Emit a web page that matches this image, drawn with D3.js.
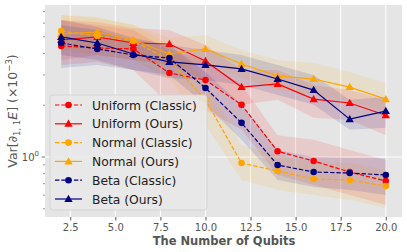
<!DOCTYPE html>
<html>
<head>
<meta charset="utf-8">
<script src="https://cdn.jsdelivr.net/npm/d3@7"></script>
<style>
  body { margin: 0; background: #fff; }
  svg { display: block; font-family: "DejaVu Sans", sans-serif; }
</style>
</head>
<body>
<svg id="chart" width="407" height="252"></svg>
<script>
// Number of qubits
let qubits = [2, 4, 6, 8, 10, 12, 14, 16, 18, 20];

let xTicks = [2.5, 5.0, 7.5, 10.0, 12.5, 15.0, 17.5, 20.0];

// Means (x 1e-3)
let uniformClassic = [4.42, 4.30, 4.25, 3.08, 2.80, 2.01, 1.08, 0.948, 0.818, 0.725];
let uniformOurs = [4.79, 4.99, 4.60, 4.54, 3.62, 2.55, 2.66, 2.17, 2.06, 1.75];
let normalClassic = [5.40, 5.05, 4.73, 3.66, 2.15, 0.923, 0.829, 0.745, 0.735, 0.678];
let normalOurs = [5.19, 5.33, 4.79, 3.97, 4.25, 3.47, 2.96, 2.84, 2.55, 2.17];
let betaClassic = [4.60, 4.25, 3.92, 3.76, 2.52, 1.58, 0.898, 0.818, 0.807, 0.786];
let betaOurs = [4.99, 4.60, 3.97, 3.57, 3.43, 3.25, 2.84, 2.45, 1.66, 1.85];

// Shaded bands (lower / upper)
let uniformClassicLo = [3.43, 3.57, 3.20, 2.01, 1.88, 1.44, 0.786, 0.687, 0.601, 0.526];
let uniformClassicHi = [6.26, 5.85, 5.47, 4.19, 3.66, 2.62, 1.34, 1.26, 1.10, 0.961];
let uniformOursLo = [3.66, 3.92, 3.66, 3.43, 2.80, 2.01, 2.15, 1.69, 1.64, 1.34];
let uniformOursHi = [6.26, 6.09, 5.62, 5.47, 4.48, 3.20, 3.20, 2.62, 2.45, 2.15];
let normalClassicLo = [4.19, 3.92, 3.66, 2.80, 1.53, 0.735, 0.643, 0.601, 0.562, 0.505];
let normalClassicHi = [6.69, 6.43, 5.85, 4.48, 2.80, 1.17, 1.03, 0.935, 0.923, 0.840];
let normalOursLo = [4.19, 4.36, 3.81, 3.29, 3.43, 2.88, 2.45, 2.29, 2.09, 1.83];
let normalOursHi = [6.69, 6.52, 5.85, 4.92, 5.12, 4.19, 3.66, 3.52, 3.12, 2.69];
let betaClassicLo = [3.29, 3.43, 3.20, 3.00, 2.01, 1.26, 0.735, 0.669, 0.643, 0.601];
let betaClassicHi = [5.85, 5.47, 4.79, 4.48, 3.12, 2.01, 1.10, 1.00, 0.987, 0.987];
let betaOursLo = [3.92, 3.66, 3.20, 2.88, 2.80, 2.62, 2.29, 2.01, 1.44, 1.48];
let betaOursHi = [6.26, 5.70, 4.92, 4.48, 4.19, 3.92, 3.43, 3.00, 2.15, 2.23];

let series = [
  { name: "Uniform (Classic)", y: uniformClassic, lo: uniformClassicLo, hi: uniformClassicHi, color: "#ff0000", dashed: true, marker: "circle" },
  { name: "Uniform (Ours)", y: uniformOurs, lo: uniformOursLo, hi: uniformOursHi, color: "#ff0000", dashed: false, marker: "triangle" },
  { name: "Normal (Classic)", y: normalClassic, lo: normalClassicLo, hi: normalClassicHi, color: "#ffa500", dashed: true, marker: "circle" },
  { name: "Normal (Ours)", y: normalOurs, lo: normalOursLo, hi: normalOursHi, color: "#ffa500", dashed: false, marker: "triangle" },
  { name: "Beta (Classic)", y: betaClassic, lo: betaClassicLo, hi: betaClassicHi, color: "#000080", dashed: true, marker: "circle" },
  { name: "Beta (Ours)", y: betaOurs, lo: betaOursLo, hi: betaOursHi, color: "#000080", dashed: false, marker: "triangle" },
];

let svg = d3.select("#chart");
// plot box
let pLeft = 45, pRight = 402, pTop = 5, pBottom = 217;

let x = d3.scaleLinear().domain([1.1, 20.9]).range([pLeft, pRight]);
let y = d3.scaleLog().domain([0.448, 7.65]).range([pBottom, pTop]);

// background
svg.append("rect")
  .attr("x", pLeft).attr("y", pTop)
  .attr("width", pRight - pLeft).attr("height", pBottom - pTop)
  .attr("fill", "#e5e5e5");

// grid
svg.append("g")
  .selectAll("line")
  .data(xTicks)
  .enter()
  .append("line")
  .attr("x1", (d) => x(d)).attr("x2", (d) => x(d))
  .attr("y1", pTop).attr("y2", pBottom)
  .attr("stroke", "#fff").attr("stroke-width", 1);

svg.append("line")
  .attr("x1", pLeft).attr("x2", pRight)
  .attr("y1", y(1)).attr("y2", y(1))
  .attr("stroke", "#fff").attr("stroke-width", 1);

// axes
let xAxis = svg.append("g")
  .attr("transform", `translate(0,${pBottom})`)
  .call(d3.axisBottom(x).tickValues(xTicks).tickFormat(d3.format(".1f")).tickSize(3.5).tickPadding(3));
xAxis.select(".domain").remove();
xAxis.selectAll("line").attr("stroke", "#555");
xAxis.selectAll("text").attr("fill", "#555").attr("font-size", 10).attr("font-family", "DejaVu Sans");

let minorY = [0.5, 0.6, 0.7, 0.8, 0.9, 2, 3, 4, 5, 6, 7];
svg.append("g")
  .selectAll("line")
  .data(minorY)
  .enter()
  .append("line")
  .attr("x1", pLeft - 2).attr("x2", pLeft)
  .attr("y1", (d) => y(d)).attr("y2", (d) => y(d))
  .attr("stroke", "#555").attr("stroke-width", 0.6);

svg.append("line")
  .attr("x1", pLeft - 3.5).attr("x2", pLeft)
  .attr("y1", y(1)).attr("y2", y(1))
  .attr("stroke", "#555").attr("stroke-width", 0.8);

let yLab = svg.append("text")
  .attr("x", pLeft - 6).attr("y", y(1) + 4)
  .attr("text-anchor", "end")
  .attr("fill", "#555").attr("font-size", 10);
yLab.append("tspan").text("10");
yLab.append("tspan").attr("font-size", 7).attr("dy", -5).text("0");

// bands
let area = d3.area()
  .x((d) => x(d.x))
  .y0((d) => y(d.lo))
  .y1((d) => y(d.hi));

series.forEach((s) => {
  let pts = qubits.map((q, i) => ({ x: q, lo: s.lo[i], hi: s.hi[i] }));
  svg.append("path")
    .attr("d", area(pts))
    .attr("fill", s.color)
    .attr("fill-opacity", 0.11);
});

// lines + markers
let line = d3.line()
  .x((d) => x(d.x))
  .y((d) => y(d.y));

let tri = d3.symbol().type(d3.symbolTriangle).size(30);

function drawMarker(g, m, color, cx, cy) {
  if (m === "circle") {
    g.append("circle")
      .attr("cx", cx).attr("cy", cy).attr("r", 3.3)
      .attr("fill", color);
  } else {
    g.append("path")
      .attr("d", tri())
      .attr("transform", `translate(${cx},${cy + 0.6})`)
      .attr("fill", color);
  }
}

series.forEach((s) => {
  let pts = qubits.map((q, i) => ({ x: q, y: s.y[i] }));
  let g = svg.append("g");
  g.append("path")
    .attr("d", line(pts))
    .attr("fill", "none")
    .attr("stroke", s.color)
    .attr("stroke-width", 1.2)
    .attr("stroke-dasharray", s.dashed ? "4.4,1.9" : null);
  pts.forEach((p) => drawMarker(g, s.marker, s.color, x(p.x), y(p.y)));
});

// legend
let legend = svg.append("g");
legend.append("rect")
  .attr("x", 50).attr("y", 95)
  .attr("width", 157).attr("height", 115)
  .attr("rx", 3)
  .attr("fill", "#e9e9e9").attr("fill-opacity", 0.85)
  .attr("stroke", "#d0d0d0").attr("stroke-width", 0.8);

series.forEach((s, i) => {
  let ly = 105 + i * 18.8;
  legend.append("line")
    .attr("x1", 55).attr("x2", 82)
    .attr("y1", ly).attr("y2", ly)
    .attr("stroke", s.color).attr("stroke-width", 1.2)
    .attr("stroke-dasharray", s.dashed ? "4.4,1.9" : null);
  drawMarker(legend, s.marker, s.color, 68.5, ly);
  legend.append("text")
    .attr("x", 92).attr("y", ly + 4.5)
    .attr("fill", "#222").attr("font-size", 12.3)
    .text(s.name);
});

// axis labels
svg.append("text")
  .attr("x", 224).attr("y", 245)
  .attr("text-anchor", "middle")
  .attr("fill", "#555").attr("font-size", 11.5).attr("font-weight", "bold")
  .text("The Number of Qubits");

let yt = svg.append("text")
  .attr("transform", `translate(17,${(pTop + pBottom) / 2}) rotate(-90)`)
  .attr("text-anchor", "middle")
  .attr("fill", "#555").attr("font-size", 12.5);
yt.append("tspan").text("Var[∂");
yt.append("tspan").attr("font-size", 8.5).attr("dy", 3).text("1, 1");
yt.append("tspan").attr("dy", -3).attr("font-style", "italic").text("E");
yt.append("tspan").text("] (×10");
yt.append("tspan").attr("font-size", 8.5).attr("dy", -5).text("−3");
yt.append("tspan").attr("dy", 5).text(")");
</script>
</body>
</html>
